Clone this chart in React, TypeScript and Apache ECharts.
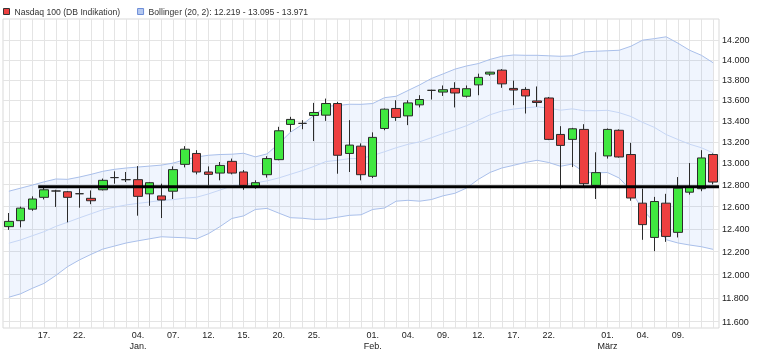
import React, { useEffect, useRef } from "react";
import * as echarts from "echarts";

const categories = [
  "2020-12-14", "2020-12-15", "2020-12-16", "2020-12-17", "2020-12-18", "2020-12-21", "2020-12-22", "2020-12-23",
  "2020-12-28", "2020-12-29", "2020-12-30",
  "2021-01-04", "2021-01-05", "2021-01-06", "2021-01-07", "2021-01-08", "2021-01-11", "2021-01-12", "2021-01-13",
  "2021-01-14", "2021-01-15", "2021-01-18", "2021-01-19", "2021-01-20", "2021-01-21", "2021-01-22", "2021-01-25",
  "2021-01-26", "2021-01-27", "2021-01-28", "2021-01-29",
  "2021-02-01", "2021-02-02", "2021-02-03", "2021-02-04", "2021-02-05", "2021-02-08", "2021-02-09", "2021-02-10",
  "2021-02-11", "2021-02-12", "2021-02-15", "2021-02-16", "2021-02-17", "2021-02-18", "2021-02-19", "2021-02-22",
  "2021-02-23", "2021-02-24", "2021-02-25", "2021-02-26",
  "2021-03-01", "2021-03-02", "2021-03-03", "2021-03-04", "2021-03-05", "2021-03-08", "2021-03-09", "2021-03-10",
  "2021-03-11", "2021-03-12",
];

const tickDates = [
  "2020-12-17", "2020-12-22", "2021-01-04", "2021-01-07", "2021-01-12", "2021-01-15", "2021-01-20", "2021-01-25",
  "2021-02-01", "2021-02-04", "2021-02-09", "2021-02-12", "2021-02-17", "2021-02-22", "2021-03-01", "2021-03-04",
  "2021-03-09",
];
const tickLabels = [
  "17.", "22.", "04.\nJan.", "07.", "12.", "15.", "20.", "25.",
  "01.\nFeb.", "04.", "09.", "12.", "17.", "22.", "01.\nMärz", "04.",
  "09.",
];

const yTicks = [11600, 11800, 12000, 12200, 12400, 12600, 12800, 13000, 13200, 13400, 13600, 13800, 14000, 14200];

const opens = [
  12420, 12473, 12577, 12684, 12742, 12735, 12717, 12675, 12753, 12865, 12846,
  12846, 12716, 12697, 12740, 12988, 13090, 12917, 12907, 13016, 12917, 12784, 12892, 13032, 13366, 13376, 13452,
  13455, 13568, 13090, 13159,
  12877, 13327, 13520, 13448, 13555, 13697, 13680, 13716, 13639, 13751, 13858, 13897, 13716, 13706, 13593, 13622,
  13270, 13223, 13318, 12794,
  13067, 13310, 13080, 12631, 12324, 12631, 12369, 12731, 12763, 13080,
];
const closes = [
  12467, 12586, 12669, 12753, 12742, 12684, 12717, 12653, 12840, 12865, 12846,
  12693, 12818, 12660, 12939, 13130, 12917, 12895, 12978, 12907, 12794, 12818, 13042, 13305, 13414, 13376, 13481,
  13568, 13073, 13169, 12892,
  13242, 13513, 13433, 13574, 13607, 13697, 13703, 13671, 13713, 13825, 13877, 13761, 13700, 13642, 13578, 13223,
  13166, 13324, 12809, 12911,
  13318, 13057, 12678, 12438, 12646, 12333, 12768, 12778, 13048, 12824,
];
const highs = [
  12542, 12600, 12693, 12784, 12753, 12742, 12766, 12747, 12856, 12923, 12917,
  12972, 12824, 12809, 12969, 13159, 13121, 12969, 13010, 13042, 12935, 12840, 13064, 13343, 13439, 13407, 13574,
  13616, 13584, 13407, 13185,
  13290, 13520, 13600, 13600, 13649, 13703, 13745, 13777, 13745, 13862, 13880, 13907, 13793, 13728, 13735, 13632,
  13349, 13333, 13368, 13101,
  13327, 13318, 13190, 12763, 12688, 12716, 12870, 13000, 13121, 13090,
];
const lows = [
  12391, 12414, 12562, 12665, 12597, 12458, 12590, 12622, 12747, 12809, 12824,
  12518, 12607, 12497, 12669, 12960, 12895, 12794, 12840, 12895, 12753, 12763, 12865, 13026, 13295, 13320, 13207,
  13400, 12901, 12917, 12840,
  12861, 13310, 13400, 13359, 13530, 13607, 13642, 13530, 13626, 13649, 13841, 13722, 13552, 13471, 13536, 13216,
  12763, 12963, 12778, 12669,
  13042, 13051, 12653, 12303, 12203, 12285, 12324, 12709, 12740, 12803,
];

const upperBand = [
  12740, 12768, 12796, 12826, 12852, 12849, 12870, 12895, 12923, 12942, 12954,
  12963, 12972, 12981, 13000, 13032, 13057, 13073, 13080, 13083, 13092, 13058, 13086, 13183, 13292, 13365, 13453,
  13541, 13548, 13561, 13560,
  13568, 13625, 13639, 13695, 13751, 13814, 13860, 13907, 13939, 13963, 14005, 14036, 14049, 14046, 14046, 14041,
  14036, 14041, 14080, 14087,
  14092, 14097, 14138, 14200, 14215, 14234, 14169, 14097, 14046, 13971,
];
const midBand = [
  12273, 12302, 12339, 12375, 12422, 12459, 12498, 12535, 12572, 12595, 12615,
  12629, 12642, 12656, 12663, 12677, 12685, 12715, 12751, 12788, 12804, 12816, 12835, 12862, 12896, 12930, 12969,
  13014, 13026, 13041, 13043,
  13071, 13106, 13144, 13176, 13200, 13239, 13279, 13314, 13354, 13406, 13459, 13495, 13514, 13526, 13536, 13523,
  13503, 13516, 13498, 13498,
  13502, 13479, 13442, 13385, 13337, 13269, 13222, 13177, 13144, 13095,
];
const lowerBand = [
  11806, 11835, 11882, 11924, 11992, 12068, 12126, 12175, 12221, 12248, 12275,
  12294, 12312, 12330, 12325, 12321, 12312, 12357, 12421, 12493, 12516, 12574, 12584, 12541, 12500, 12495, 12485,
  12487, 12504, 12521, 12526,
  12574, 12587, 12649, 12657, 12649, 12664, 12698, 12721, 12769, 12849, 12913, 12954, 12979, 13006, 13026, 13005,
  12970, 12991, 12916, 12909,
  12912, 12861, 12746, 12570, 12459, 12304, 12275, 12257, 12242, 12219,
];

const supportLevel = 12780;
const supportStartIndex = 2.5;

const seriesName = "Nasdaq 100 (DB Indikation)";
const bandName = "Bollinger (20, 2): 12.219 - 13.095 - 13.971";

export default function App() {
  const ref = useRef<HTMLDivElement>(null);

  useEffect(() => {
    if (!ref.current) return;
    const chart = echarts.init(ref.current, undefined, { renderer: "svg" });
    const font = "'Liberation Sans', Arial, sans-serif";
    const candleData = categories.map((_, i) => [opens[i], closes[i], lows[i], highs[i]]);
    const bandDiff = upperBand.map((u, i) => u - lowerBand[i]);
    const lastIndex = categories.length - 1;

    chart.setOption({
      animation: false,
      textStyle: { fontFamily: font },
      legend: {
        left: 3,
        top: 7,
        padding: 0,
        itemWidth: 6,
        itemHeight: 6,
        itemGap: 17,
        textStyle: { fontSize: 8.6, color: "#333", fontFamily: font },
        data: [
          { name: seriesName, icon: "rect", itemStyle: { color: "#ee4040", borderColor: "#333", borderWidth: 1 } },
          { name: bandName, icon: "rect", itemStyle: { color: "#b4c8f0", borderColor: "#6d8ed8", borderWidth: 1 } },
        ],
      },
      grid: {
        left: 3,
        right: 64,
        top: 19,
        bottom: 25,
        show: true,
        borderColor: "#d9d9d9",
        borderWidth: 1,
        backgroundColor: "#fff",
      },
      xAxis: [
        {
          type: "category",
          data: categories,
          boundaryGap: true,
          axisLine: { show: false },
          axisTick: { show: false },
          splitLine: {
            show: true,
            interval: 0,
            alignWithLabel: true,
            lineStyle: { color: "#e4e4e4", width: 1 },
          },
          axisLabel: {
            interval: (_idx: number, value: string) => tickDates.indexOf(value) >= 0,
            formatter: (value: string) => {
              const k = tickDates.indexOf(value);
              return k >= 0 ? tickLabels[k] : "";
            },
            fontSize: 9,
            lineHeight: 11,
            color: "#222",
            margin: 1,
            fontFamily: font,
          },
        },
        {
          type: "value",
          min: -0.5,
          max: lastIndex + 0.5,
          show: false,
          splitLine: { show: false },
        },
      ],
      yAxis: {
        type: "log",
        position: "right",
        min: 11548,
        max: 14417,
        axisLine: { show: false },
        axisTick: { show: false, customValues: yTicks },
        splitLine: { show: true, lineStyle: { color: "#e4e4e4", width: 1 } },
        axisLabel: {
          customValues: yTicks,
          margin: 3,
          fontSize: 9,
          color: "#222",
          fontFamily: font,
          formatter: (v: number) => (Math.round(v) / 1000).toFixed(3),
        },
      },
      series: [
        {
          type: "line",
          name: "lower",
          data: lowerBand,
          stack: "bb",
          symbol: "none",
          z: 1,
          lineStyle: { color: "#a9bfea", width: 1 },
          silent: true,
        },
        {
          type: "line",
          name: bandName,
          data: bandDiff,
          stack: "bb",
          symbol: "none",
          z: 1,
          lineStyle: { color: "#a9bfea", width: 1 },
          areaStyle: { color: "rgba(100,150,240,0.14)" },
          itemStyle: { color: "#b4c8f0" },
          silent: true,
        },
        {
          type: "line",
          name: "mid",
          data: midBand,
          symbol: "none",
          z: 1,
          lineStyle: { color: "#c6d6f5", width: 1 },
          silent: true,
        },
        {
          type: "candlestick",
          name: seriesName,
          data: candleData,
          barWidth: 9,
          z: 2,
          itemStyle: {
            color: "#40e840",
            color0: "#ee4040",
            borderColor: "#2b2b2b",
            borderColor0: "#2b2b2b",
            borderWidth: 1,
          },
        },
        {
          type: "line",
          name: "support",
          xAxisIndex: 1,
          data: [
            [supportStartIndex, supportLevel],
            [lastIndex + 0.5, supportLevel],
          ],
          symbol: "none",
          z: 3,
          lineStyle: { color: "#000", width: 3 },
          silent: true,
        },
      ],
    });
    return () => chart.dispose();
  }, []);

  return <div ref={ref} style={{ position: "fixed", left: 0, top: 0, width: 783, height: 353 }} />;
}
